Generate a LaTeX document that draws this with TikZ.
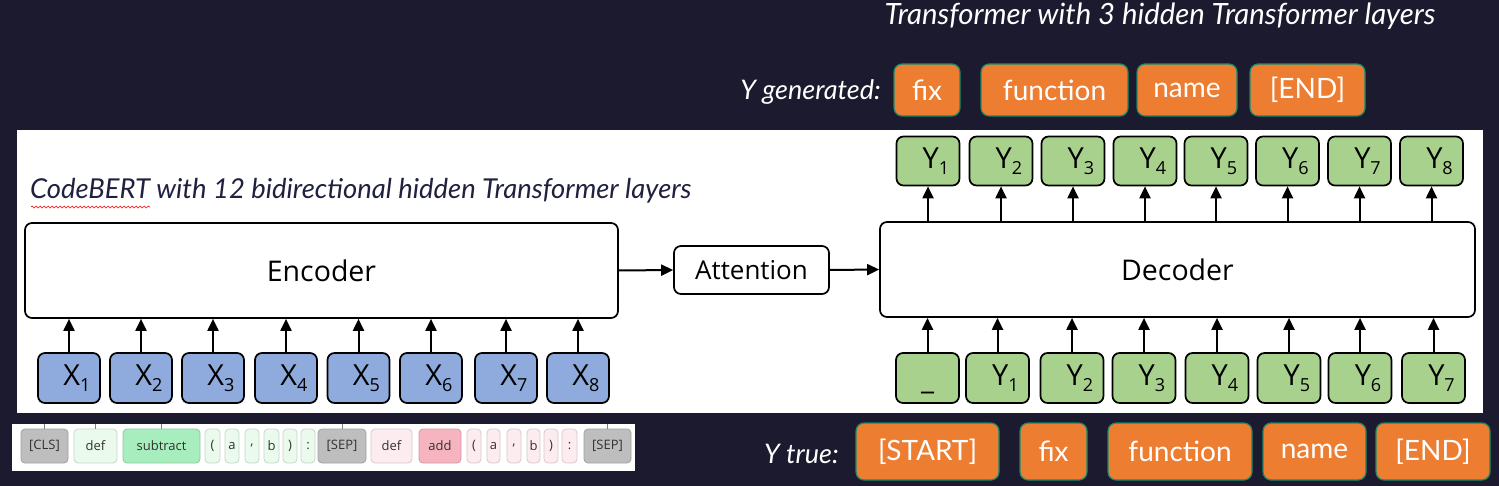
\documentclass[tikz,border=0pt]{standalone}
\usepackage{fontspec}
\setmainfont{Open Sans}
\newfontfamily\gillfont{Lato}
\usepackage{xcolor}
\usetikzlibrary{arrows.meta}
\usetikzlibrary{decorations.pathmorphing}
\definecolor{bgColor}{RGB}{27,26,46}
\definecolor{capNavy}{RGB}{32,32,64}
\definecolor{xBlue}{RGB}{143,170,220}
\definecolor{yGreen}{RGB}{169,209,142}
\definecolor{outOrange}{RGB}{237,125,49}
\definecolor{outEdge}{RGB}{20,137,107}
\definecolor{tokGray}{RGB}{190,190,190}
\definecolor{tokLGreen}{RGB}{234,251,238}
\definecolor{tokGreen}{RGB}{168,237,190}
\definecolor{tokLPink}{RGB}{253,236,239}
\definecolor{tokPink}{RGB}{246,180,192}

\begin{document}
\begin{tikzpicture}[x=1pt,y=-1pt,
  blk/.style={draw=black, line width=1.7pt, rounded corners=7pt, fill=white, inner sep=0pt, font=\fontsize{26}{28}\selectfont},
  xbox/.style={blk, fill=xBlue, minimum width=62, minimum height=50, font=\fontsize{29}{30}\selectfont},
  ybox/.style={blk, fill=yGreen, minimum width=63, minimum height=49, font=\fontsize{29}{30}\selectfont},
  arr/.style={line width=2pt, -{Triangle[length=12pt,width=11pt]}},
  obox/.style={fill=outOrange, draw=outEdge, line width=1.2pt, rounded corners=8pt, inner sep=0pt, text=white, font=\gillfont\fontsize{28}{30}\selectfont},
  tok/.style={fill=#1, draw=#1!85!black, line width=0.8pt, rounded corners=4pt, inner sep=0pt, minimum height=34, text={rgb,255:red,50;green,50;blue,50}, font=\fontsize{13}{14}\selectfont},
  caption/.style={inner sep=0pt, font=\gillfont\itshape\fontsize{27.4}{29}\selectfont}]
\newcommand\Lbl[2]{\hspace*{16pt}#1\raisebox{-6pt}{\fontsize{18}{18}\selectfont#2}}
\useasboundingbox (0,0) rectangle (1499,486);
\fill [bgColor] (0,0) rectangle (1499,486);
\fill [white] (17,130) rectangle (1483,413);

\node [caption, text=capNavy, anchor=base west] (cbert) at (30,199) {CodeBERT with 12 bidirectional hidden Transformer layers};
\draw [red, line width=0.6pt, decorate, decoration={snake, amplitude=1pt, segment length=4pt}] (31,207) -- (150,207);
\node [caption, text=white, anchor=base, font=\gillfont\itshape\fontsize{29.3}{31}\selectfont] (ttitle) at (1160,25) {Transformer with 3 hidden Transformer layers};

\node [blk, minimum width=593, minimum height=95, font=\fontsize{28.5}{30}\selectfont] (enc) at (321.5,270.5) {Encoder};
\node [blk, minimum width=155, minimum height=48] (att) at (751.5,270) {Attention};
\node [blk, minimum width=595, minimum height=95, font=\fontsize{28.5}{30}\selectfont] (dec) at (1177.5,269.5) {Decoder};
\draw [arr] (enc.east) -- (att.west);
\draw [arr] (att.east) -- (dec.west);

\foreach \i/\cx in {1/69,2/141,3/213,4/286,5/358.5,6/431,7/506,8/578} {
  \node [xbox] (x\i) at (\cx,378) {\Lbl{X}{\i}};
  \draw [arr] (x\i.north) -- (x\i.north |- enc.south);
}
\foreach \i/\cx in {1/928,2/1001,3/1073,4/1145,5/1216,6/1287.5,7/1359.5,8/1431.5} {
  \node [ybox] (yo\i) at (\cx,161) {\Lbl{Y}{\i}};
  \draw [arr] (yo\i.south |- dec.north) -- (yo\i.south);
}
\node [ybox, minimum height=50] (yi0) at (927.5,378) {\raisebox{-11pt}[0pt][0pt]{\_}};
\draw [arr] (yi0.north) -- (yi0.north |- dec.south);
\foreach \i/\cx in {1/997.5,2/1072,3/1144,4/1217,5/1289,6/1360,7/1433.5} {
  \node [ybox, minimum height=50] (yi\i) at (\cx,378) {\Lbl{Y}{\i}};
  \draw [arr] (yi\i.north) -- (yi\i.north |- dec.south);
}

\node [caption, text=white, anchor=base east, font=\gillfont\itshape\fontsize{27}{28}\selectfont] (ygen) at (881,100) {Y generated:};
\foreach \n/\a/\b/\t in {1/894/960/fix,2/981/1128/function,3/1137/1237/name,4/1250/1365/[END]}
  \node [obox, minimum width={\b-\a}, minimum height=52] (gen\n) at ({(\a+\b)/2},90) {\t};
\node [caption, text=white, anchor=base east, font=\gillfont\itshape\fontsize{27}{28}\selectfont] (ytrue) at (839,463) {Y true:};
\foreach \n/\a/\b/\t in {1/856/999/[START],2/1020/1087/fix,3/1108/1252/function,4/1263/1366/name,5/1376/1490/[END]}
  \node [obox, minimum width={\b-\a}, minimum height=57] (true\n) at ({(\a+\b)/2},451.5) {\t};

\node [fill=white, inner sep=0pt, minimum width=623, minimum height=47] (strip) at (323.5,447.5) {};
\foreach \n/\a/\b/\c/\t in {1/21/68/tokGray/[CLS],2/74/117/tokLGreen/def,3/123/200/tokGreen/subtract,
  4/205/220/tokLGreen/(,5/225/239/tokLGreen/a,6/245/259/tokLGreen/{,},7/264/279/tokLGreen/b,
  8/283/297/tokLGreen/),9/301/315/tokLGreen/:,10/318/366/tokGray/[SEP],11/371/412/tokLPink/def,
  12/419/461/tokPink/add,13/467/481/tokLPink/(,14/487/500/tokLPink/a,15/507/521/tokLPink/{,},
  16/527/540/tokLPink/b,17/544/558/tokLPink/),18/562/577/tokLPink/:,19/584/631/tokGray/[SEP]}
  \node [tok=\c, minimum width={\b-\a}] (tk\n) at ({(\a+\b)/2},446) {\t};
\foreach \n in {1,2,3,10,19}
  \draw [gray, line width=0.8pt] (tk\n.north) -- (tk\n.north |- strip.north);
\end{tikzpicture}
\end{document}
